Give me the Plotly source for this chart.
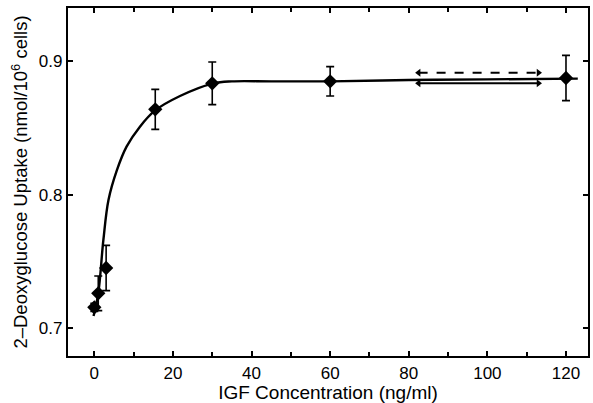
import plotly.graph_objects as go

# Measured points
conc = [0, 1, 3, 15.5, 30, 60, 120]
uptake = [0.7155, 0.726, 0.745, 0.864, 0.8835, 0.885, 0.8875]
err = [0.003, 0.013, 0.017, 0.015, 0.016, 0.011, 0.017]

# Fitted curve
curve_x = [-0.2, 1.0, 2.3, 3.6, 5.7, 8.2, 11.6, 15.4, 21.8, 30.3, 35, 45, 60, 80, 100, 123]
curve_y = [0.709, 0.726, 0.766, 0.796, 0.818, 0.836, 0.851, 0.863, 0.874, 0.8835, 0.885, 0.885, 0.885, 0.886, 0.8865, 0.887]

# Double-headed range arrows
arrow_x = [82.5, 113]
dashed_y = 0.8915
solid_y = 0.8835

FONT = "Liberation Sans, Arial, sans-serif"

fig = go.Figure()
fig.add_trace(go.Scatter(x=curve_x, y=curve_y, mode="lines", line=dict(color="black", width=2.4, shape="spline"), showlegend=False, hoverinfo="skip"))
fig.add_trace(go.Scatter(x=conc, y=uptake, mode="markers",
                         marker=dict(symbol="diamond", size=11, color="black"),
                         error_y=dict(type="data", array=err, color="black", thickness=1.6, width=4),
                         showlegend=False))
for yv, dash in [(dashed_y, "dash"), (solid_y, "solid")]:
    fig.add_trace(go.Scatter(x=arrow_x, y=[yv, yv], mode="lines+markers",
                             line=dict(color="black", width=2, dash=dash),
                             marker=dict(symbol=["triangle-left", "triangle-right"], size=7, color="black"),
                             showlegend=False, hoverinfo="skip"))

axis_common = dict(showline=True, linecolor="black", linewidth=2.2, mirror="ticks",
                   ticks="inside", tickcolor="black", ticklen=5, tickwidth=1.6,
                   showgrid=False, zeroline=False, automargin=False,
                   tickfont=dict(family=FONT, size=17, color="black"))

fig.update_xaxes(range=[-6.7, 125.6], tickvals=[0, 20, 40, 60, 80, 100, 120],
                 minor=dict(tickvals=[10, 30, 50, 70, 90, 110], ticks="inside", ticklen=4, tickcolor="black", tickwidth=1.6),
                 title=dict(text="IGF Concentration (ng/ml)", font=dict(family=FONT, size=19, color="black"), standoff=0),
                 **axis_common)
fig.update_yaxes(range=[0.679, 0.940], tickvals=[0.7, 0.8, 0.9], ticktext=["0.7", "0.8", "0.9"],
                 title=dict(text="2\u2013Deoxyglucose Uptake (nmol/10<sup>6</sup> cells)", font=dict(family=FONT, size=18.5, color="black"), standoff=6),
                 **axis_common)

fig.update_layout(width=593, height=403, margin=dict(l=68, r=5, t=8, b=47),
                  plot_bgcolor="white", paper_bgcolor="white")

fig.write_html("out.html", config={"responsive": False, "displayModeBar": False},
               post_script="document.body.style.margin='0';document.body.style.overflow='hidden';")
